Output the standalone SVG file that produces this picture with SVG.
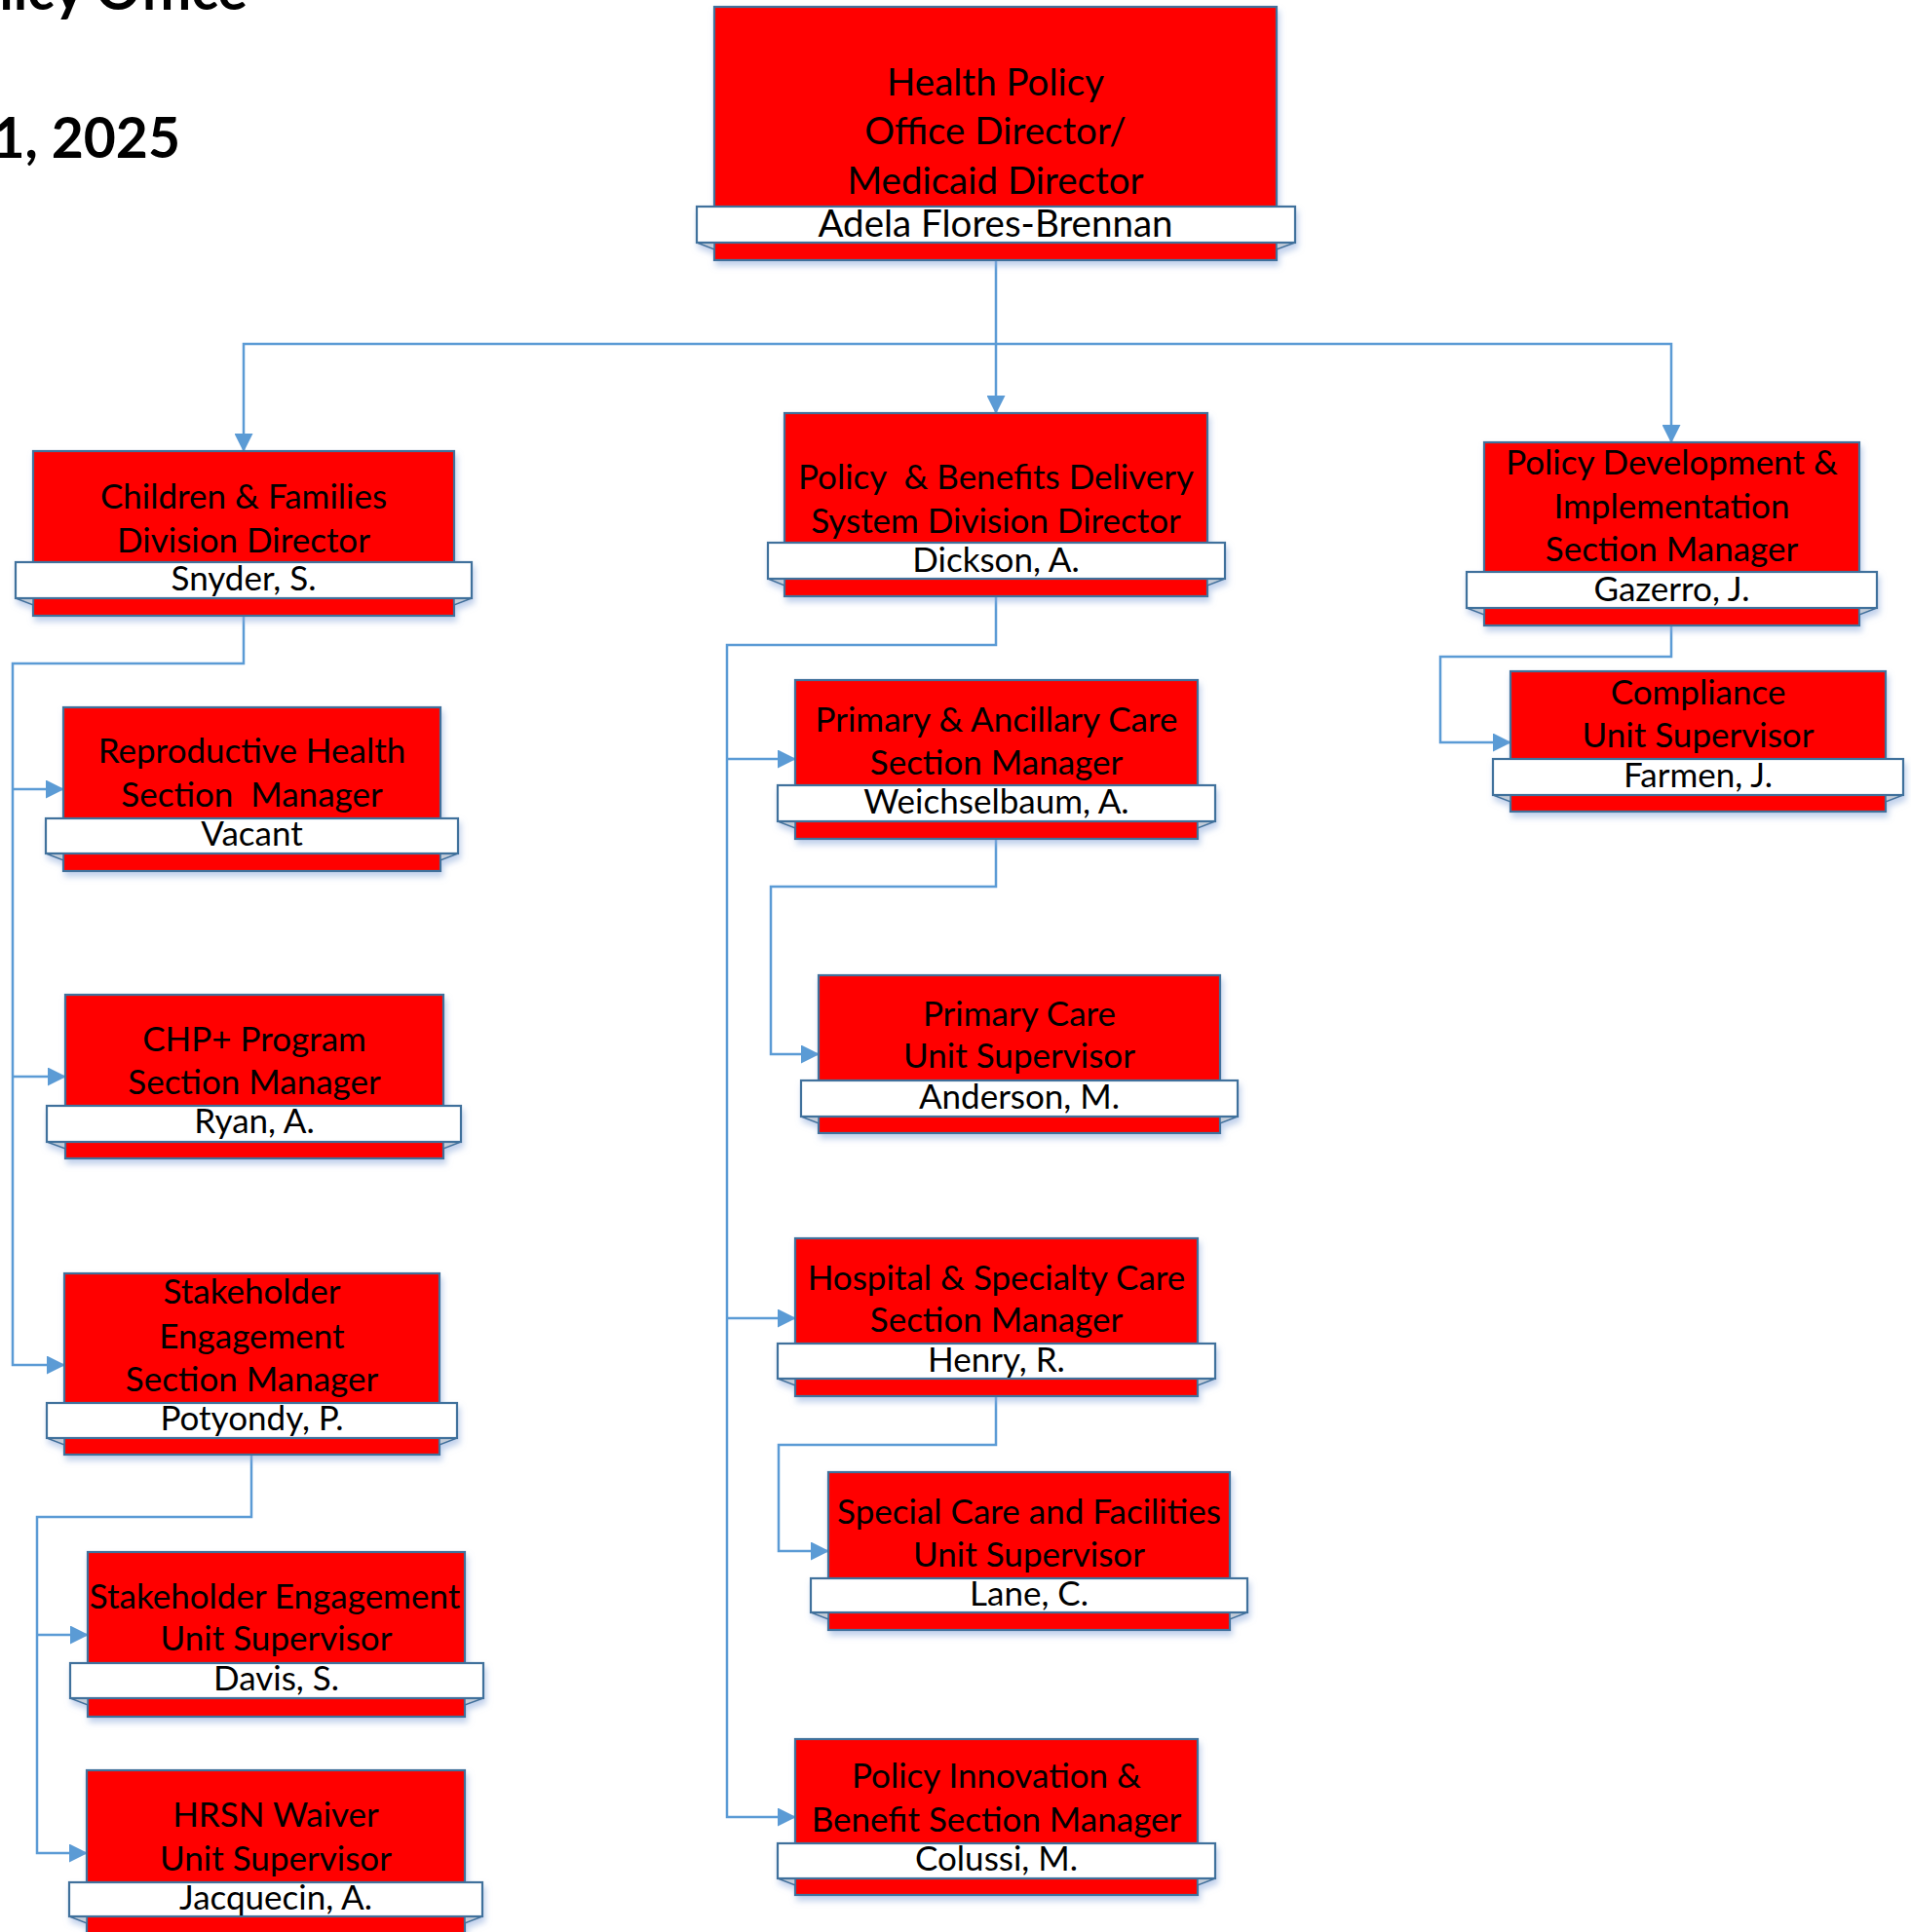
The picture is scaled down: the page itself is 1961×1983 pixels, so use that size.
<svg xmlns="http://www.w3.org/2000/svg" width="1961" height="1983" viewBox="0 0 1961 1983">
<style>
.box{fill:#FF0000;stroke:#41719C;stroke-width:2.2}
.band{fill:#FFFFFF;stroke:#41719C;stroke-width:2.2}
.fold{fill:#C3CBD8;stroke:#41719C;stroke-width:1.5}
.t{font-family:Lato,"Liberation Sans",sans-serif;font-size:35px;text-anchor:middle;fill:#000}
.big{font-size:38.5px}
.title{font-family:Lato,"Liberation Sans",sans-serif;font-weight:bold;font-size:57px;text-anchor:end;fill:#000}
.conn{fill:none;stroke:#5B9BD5;stroke-width:2.5}
.arr{marker-end:url(#ah)}
.sh{filter:url(#shadow)}
</style>
<defs>
<marker id="ah" markerUnits="userSpaceOnUse" markerWidth="19" markerHeight="19" refX="18" refY="9.5" orient="auto">
<path d="M0,0 L19,9.5 L0,19 z" fill="#5B9BD5"/>
</marker>
<filter id="shadow" x="-5%" y="-5%" width="110%" height="120%">
<feDropShadow dx="2" dy="5" stdDeviation="3" flood-color="#8FAADC" flood-opacity="0.55"/>
</filter>
</defs>

<g id="title">
<text class="title" x="254" y="10">licy Office</text>
<text class="title" x="185" y="162">1, 2025</text>
</g>

<g id="connectors">
<path class="conn arr" d="M1022,267 V424"/>
<path class="conn arr" d="M1022,353 H250 V463"/>
<path class="conn arr" d="M1022,353 H1715 V454"/>
<path class="conn arr" d="M250,632 V681 H13 V1401 H66"/>
<path class="conn arr" d="M13,810 H65"/>
<path class="conn arr" d="M13,1105 H67"/>
<path class="conn arr" d="M258,1493 V1557 H38 V1902 H89"/>
<path class="conn arr" d="M38,1678 H90"/>
<path class="conn arr" d="M1022,612 V662 H746 V1865 H816"/>
<path class="conn arr" d="M746,779 H816"/>
<path class="conn arr" d="M746,1353 H816"/>
<path class="conn arr" d="M1022,861 V910 H791 V1082 H840"/>
<path class="conn arr" d="M1022,1433 V1483 H799 V1592 H850"/>
<path class="conn arr" d="M1715,642 V674 H1478 V762 H1550"/>
</g>

<g id="n-top">
<g class="sh">
<rect class="box" x="733" y="7" width="577" height="260"/>
<polygon class="fold" points="715,249 733,249 733,256"/>
<polygon class="fold" points="1329,249 1310,249 1310,256"/>
<rect class="band" x="715" y="212" width="614" height="37"/>
</g>
<text class="t big" x="1021.5" y="98">Health Policy</text>
<text class="t big" x="1021.5" y="148">Office Director/</text>
<text class="t big" x="1021.5" y="199">Medicaid Director</text>
<text class="t big" x="1021.5" y="243">Adela Flores-Brennan</text>
</g>

<g id="n-children">
<g class="sh">
<rect class="box" x="34" y="463" width="432" height="169"/>
<polygon class="fold" points="16,614 34,614 34,621"/>
<polygon class="fold" points="484,614 466,614 466,621"/>
<rect class="band" x="16" y="577" width="468" height="37"/>
</g>
<text class="t" x="250" y="522">Children &amp; Families</text>
<text class="t" x="250" y="567">Division Director</text>
<text class="t" x="250" y="606">Snyder, S.</text>
</g>

<g id="n-repro">
<g class="sh">
<rect class="box" x="65" y="726" width="387" height="168"/>
<polygon class="fold" points="47,876 65,876 65,883"/>
<polygon class="fold" points="470,876 452,876 452,883"/>
<rect class="band" x="47" y="840" width="423" height="36"/>
</g>
<text class="t" x="258.5" y="783">Reproductive Health</text>
<text class="t" x="258.5" y="828" xml:space="preserve">Section  Manager</text>
<text class="t" x="258.5" y="868">Vacant</text>
</g>

<g id="n-chp">
<g class="sh">
<rect class="box" x="67" y="1021" width="388" height="168"/>
<polygon class="fold" points="48,1172 67,1172 67,1179"/>
<polygon class="fold" points="473,1172 455,1172 455,1179"/>
<rect class="band" x="48" y="1135" width="425" height="37"/>
</g>
<text class="t" x="261" y="1079">CHP+ Program</text>
<text class="t" x="261" y="1123">Section Manager</text>
<text class="t" x="261" y="1163">Ryan, A.</text>
</g>

<g id="n-stake">
<g class="sh">
<rect class="box" x="66" y="1307" width="385" height="186"/>
<polygon class="fold" points="48,1476 66,1476 66,1483"/>
<polygon class="fold" points="469,1476 451,1476 451,1483"/>
<rect class="band" x="48" y="1440" width="421" height="36"/>
</g>
<text class="t" x="258.5" y="1338">Stakeholder</text>
<text class="t" x="258.5" y="1384">Engagement</text>
<text class="t" x="258.5" y="1428">Section Manager</text>
<text class="t" x="258.5" y="1468">Potyondy, P.</text>
</g>

<g id="n-seunit">
<g class="sh">
<rect class="box" x="90" y="1593" width="387" height="169"/>
<polygon class="fold" points="72,1743 90,1743 90,1750"/>
<polygon class="fold" points="496,1743 477,1743 477,1750"/>
<rect class="band" x="72" y="1707" width="424" height="36"/>
</g>
<text class="t" x="282" y="1651">Stakeholder Engagement</text>
<text class="t" x="283.5" y="1694">Unit Supervisor</text>
<text class="t" x="283.5" y="1735">Davis, S.</text>
</g>

<g id="n-hrsn">
<g class="sh">
<rect class="box" x="89" y="1817" width="388" height="169"/>
<polygon class="fold" points="71,1967 89,1967 89,1974"/>
<polygon class="fold" points="495,1967 477,1967 477,1974"/>
<rect class="band" x="71" y="1932" width="424" height="35"/>
</g>
<text class="t" x="283" y="1875">HRSN Waiver</text>
<text class="t" x="283" y="1920">Unit Supervisor</text>
<text class="t" x="283" y="1960">Jacquecin, A.</text>
</g>

<g id="n-pbd">
<g class="sh">
<rect class="box" x="805" y="424" width="434" height="188"/>
<polygon class="fold" points="788,594 805,594 805,601"/>
<polygon class="fold" points="1257,594 1239,594 1239,601"/>
<rect class="band" x="788" y="557" width="469" height="37"/>
</g>
<text class="t" x="1022" y="502" xml:space="preserve">Policy  &amp; Benefits Delivery</text>
<text class="t" x="1022" y="547">System Division Director</text>
<text class="t" x="1022" y="587">Dickson, A.</text>
</g>

<g id="n-pac">
<g class="sh">
<rect class="box" x="816" y="698" width="413" height="163"/>
<polygon class="fold" points="798,843 816,843 816,850"/>
<polygon class="fold" points="1247,843 1229,843 1229,850"/>
<rect class="band" x="798" y="806" width="449" height="37"/>
</g>
<text class="t" x="1022.5" y="751">Primary &amp; Ancillary Care</text>
<text class="t" x="1022.5" y="795">Section Manager</text>
<text class="t" x="1022.5" y="835">Weichselbaum, A.</text>
</g>

<g id="n-pc">
<g class="sh">
<rect class="box" x="840" y="1001" width="412" height="162"/>
<polygon class="fold" points="822,1146 840,1146 840,1153"/>
<polygon class="fold" points="1270,1146 1252,1146 1252,1153"/>
<rect class="band" x="822" y="1109" width="448" height="37"/>
</g>
<text class="t" x="1046" y="1053">Primary Care</text>
<text class="t" x="1046" y="1096">Unit Supervisor</text>
<text class="t" x="1046" y="1138">Anderson, M.</text>
</g>

<g id="n-hosp">
<g class="sh">
<rect class="box" x="816" y="1271" width="413" height="162"/>
<polygon class="fold" points="798,1415 816,1415 816,1422"/>
<polygon class="fold" points="1247,1415 1229,1415 1229,1422"/>
<rect class="band" x="798" y="1379" width="449" height="36"/>
</g>
<text class="t" x="1022.5" y="1324">Hospital &amp; Specialty Care</text>
<text class="t" x="1022.5" y="1367">Section Manager</text>
<text class="t" x="1022.5" y="1408">Henry, R.</text>
</g>

<g id="n-scf">
<g class="sh">
<rect class="box" x="850" y="1511" width="412" height="162"/>
<polygon class="fold" points="832,1655 850,1655 850,1662"/>
<polygon class="fold" points="1280,1655 1262,1655 1262,1662"/>
<rect class="band" x="832" y="1620" width="448" height="35"/>
</g>
<text class="t" x="1056" y="1564">Special Care and Facilities</text>
<text class="t" x="1056" y="1608">Unit Supervisor</text>
<text class="t" x="1056" y="1648">Lane, C.</text>
</g>

<g id="n-pib">
<g class="sh">
<rect class="box" x="816" y="1785" width="413" height="160"/>
<polygon class="fold" points="798,1928 816,1928 816,1935"/>
<polygon class="fold" points="1247,1928 1229,1928 1229,1935"/>
<rect class="band" x="798" y="1892" width="449" height="36"/>
</g>
<text class="t" x="1022.5" y="1835">Policy Innovation &amp;</text>
<text class="t" x="1022.5" y="1880">Benefit Section Manager</text>
<text class="t" x="1022.5" y="1920">Colussi, M.</text>
</g>

<g id="n-pdi">
<g class="sh">
<rect class="box" x="1523" y="454" width="385" height="188"/>
<polygon class="fold" points="1505,624 1523,624 1523,631"/>
<polygon class="fold" points="1926,624 1908,624 1908,631"/>
<rect class="band" x="1505" y="587" width="421" height="37"/>
</g>
<text class="t" x="1715.5" y="487">Policy Development &amp;</text>
<text class="t" x="1715.5" y="532">Implementation</text>
<text class="t" x="1715.5" y="576">Section Manager</text>
<text class="t" x="1715.5" y="617">Gazerro, J.</text>
</g>

<g id="n-comp">
<g class="sh">
<rect class="box" x="1550" y="689" width="385" height="144"/>
<polygon class="fold" points="1532,816 1550,816 1550,823"/>
<polygon class="fold" points="1953,816 1935,816 1935,823"/>
<rect class="band" x="1532" y="779" width="421" height="37"/>
</g>
<text class="t" x="1742.5" y="723">Compliance</text>
<text class="t" x="1742.5" y="767">Unit Supervisor</text>
<text class="t" x="1742.5" y="808">Farmen, J.</text>
</g>
</svg>
